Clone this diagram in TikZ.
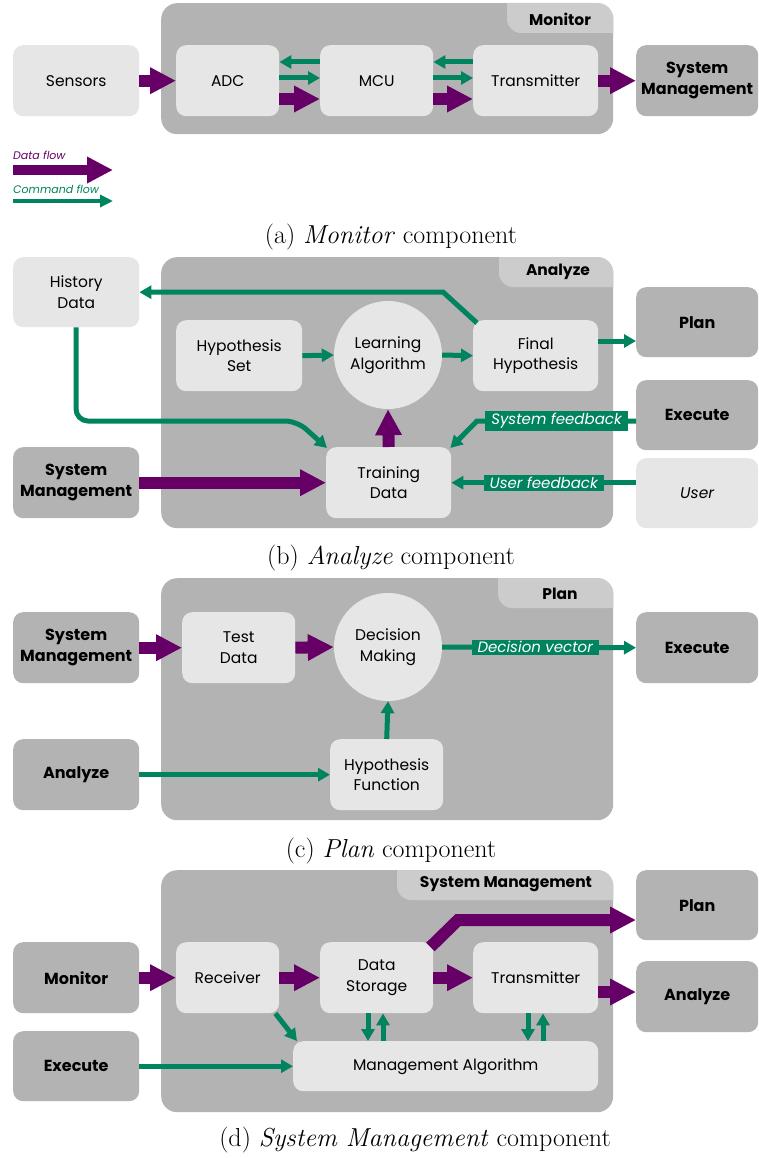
\documentclass[tikz,border=0pt]{standalone}
\usepackage{fontspec}
\newfontfamily\uifont{Poppins}
\usetikzlibrary{arrows.meta}
\definecolor{boxdark}{HTML}{B3B3B3}
\definecolor{boxlight}{HTML}{E6E6E6}
\definecolor{tabgray}{HTML}{CCCCCC}
\definecolor{dataflow}{HTML}{660066}
\definecolor{cmdflow}{HTML}{00835F}
\tikzset{
  sz/.style 2 args={minimum width=#1pt, minimum height=#2pt},
  box/.style={rounded corners=10pt, inner sep=0pt, align=center, anchor=north west,
    font=\uifont\fontsize{15.5}{20.5}\selectfont, text=black},
  light/.style={box, fill=boxlight},
  dark/.style={box, fill=boxdark, font=\uifont\bfseries\fontsize{16}{20.5}\selectfont},
  circ/.style={circle, fill=boxlight, minimum size=108pt, inner sep=0pt, align=center,
    font=\uifont\fontsize{15.5}{20.5}\selectfont},
  container/.style={fill=boxdark, rounded corners=16pt, anchor=north west, inner sep=0pt},
  tabtext/.style={font=\uifont\bfseries\fontsize{15.5}{18}\selectfont},
  dataarrow/.style={draw=dataflow, line width=12pt, -{Triangle[width=25pt,length=26pt]}},
  cmdarrow/.style={draw=cmdflow, line width=5pt, -{Triangle[width=13pt,length=12pt]}},
  flowlabel/.style={fill=cmdflow, text=white, inner xsep=6pt, inner ysep=2pt,
    font=\uifont\itshape\fontsize{15}{16}\selectfont},
  legendtext/.style={anchor=base west, inner sep=0pt, font=\uifont\itshape\fontsize{11}{13}\selectfont},
  caption/.style={font=\fontsize{26}{30}\selectfont}
}
\begin{document}
\begin{tikzpicture}[x=1pt,y=-1pt]
\useasboundingbox (0,0) rectangle (758,1158);
\fill[white] (0,0) rectangle (758,1158);

% ---------------- (a) Monitor ----------------
\node[container, sz={452}{131}] (monbox) at (161,3) {};
\begin{scope}
  \clip[rounded corners=16pt] (monbox.north west) rectangle (monbox.south east);
  \fill[tabgray, rounded corners=14pt] (507,-20) rectangle (640,33);
\end{scope}
\node[tabtext] (montab) at (560,19) {Monitor};

\node[light, sz={126}{71}] (sensors) at (13,45) {Sensors};
\node[light, sz={103}{71}] (adc) at (176,45) {ADC};
\node[light, sz={113}{71}] (mcu) at (320,45) {MCU};
\node[light, sz={125}{71}] (trans) at (473,45) {Transmitter};
\node[dark, sz={122}{71}] (sysa) at (636,45) {System\\Management};

\draw[dataarrow] (sensors.east) -- (adc.west);
\draw[cmdarrow] (mcu.west |- 0,62) -- (adc.east |- 0,62);
\draw[cmdarrow] (adc.east |- 0,78) -- (mcu.west |- 0,78);
\draw[dataarrow] (adc.east |- 0,99) -- (mcu.west |- 0,99);
\draw[cmdarrow] (trans.west |- 0,62) -- (mcu.east |- 0,62);
\draw[cmdarrow] (mcu.east |- 0,78) -- (trans.west |- 0,78);
\draw[dataarrow] (mcu.east |- 0,99) -- (trans.west |- 0,99);
\draw[dataarrow] (trans.east) -- (sysa.west);

% legend
\node[legendtext, text=dataflow] (ldata) at (13,160) {Data flow};
\coordinate (ld1) at (13,170);
\coordinate (ld2) at (113,170);
\draw[dataarrow, line width=10pt] (ld1) -- (ld2);
\node[legendtext, text=cmdflow] (lcmd) at (13,194) {Command flow};
\coordinate (lc1) at (13,201);
\coordinate (lc2) at (113,201);
\draw[cmdarrow, line width=4pt, -{Triangle[width=12pt,length=13pt]}] (lc1) -- (lc2);

\node[caption] (capa) at (391,237) {(a) \textit{Monitor} component};

% ---------------- (b) Analyze ----------------
\node[container, sz={452}{271}] (anbox) at (161,257) {};
\begin{scope}
  \clip[rounded corners=16pt] (anbox.north west) rectangle (anbox.south east);
  \fill[tabgray, rounded corners=14pt] (499,237) rectangle (640,287);
\end{scope}
\node[tabtext] (antab) at (558,272) {Analyze};

\node[light, sz={126}{70}] (hist) at (13,257) {History\\Data};
\node[light, sz={126}{71}] (hypset) at (176,320) {Hypothesis\\Set};
\node[circ] (learn) at (388,355) {Learning\\Algorithm};
\node[light, sz={125}{71}] (final) at (473,320) {Final\\Hypothesis};
\node[dark, sz={122}{70}] (planb) at (636,287) {Plan};
\node[dark, sz={122}{70}] (execb) at (636,380) {Execute};
\node[light, sz={122}{70}, font=\uifont\itshape\fontsize{15.5}{20.5}\selectfont] (user) at (636,458) {User};
\node[dark, sz={126}{71}] (sysb) at (13,447) {System\\Management};
\node[light, sz={125}{71}] (train) at (326,447) {Training\\Data};

\draw[cmdarrow] (hypset.east) -- (learn.west);
\draw[cmdarrow] (learn.east) -- (final.west);
\draw[cmdarrow] (final.east |- 0,341) -- (planb.west |- 0,341);
\coordinate (fb) at (443,292);
\draw[cmdarrow] ([shift={(4pt,-3pt)}]final.north west) -- (fb) -- (hist.east);
\coordinate (hb1) at (76,421);
\coordinate (hb2) at (297,421);
\draw[cmdarrow, rounded corners=12pt] (hist.south) -- (hb1) -- (hb2) -- ([shift={(1pt,-1pt)}]train.north west);
\draw[dataarrow] (train.north) -- (learn.south);
\draw[dataarrow] (sysb.east) -- (train.west);
\coordinate (eb) at (477,421);
\draw[cmdarrow] (execb.west |- 0,421) -- node[flowlabel, pos=0.5] (sfb) {System feedback} (eb) -- ([shift={(-1pt,-1pt)}]train.north east);
\draw[cmdarrow] (user.west |- train.east) -- node[flowlabel, pos=0.5] (ufb) {User feedback} (train.east);

\node[caption] (capb) at (391,558) {(b) \textit{Analyze} component};

% ---------------- (c) Plan ----------------
\node[container, sz={452}{242}] (plbox) at (161,578) {};
\begin{scope}
  \clip[rounded corners=16pt] (plbox.north west) rectangle (plbox.south east);
  \fill[tabgray, rounded corners=14pt] (498,558) rectangle (640,608);
\end{scope}
\node[tabtext] (pltab) at (560,594) {Plan};

\node[dark, sz={126}{71}] (sysc) at (13,612) {System\\Management};
\node[light, sz={113}{71}] (test) at (182,612) {Test\\Data};
\node[circ] (decide) at (388,647) {Decision\\Making};
\node[dark, sz={122}{71}] (execc) at (636,612) {Execute};
\node[dark, sz={126}{71}] (anc) at (13,739) {Analyze};
\node[light, sz={113}{71}] (hypfun) at (330,739) {Hypothesis\\Function};

\draw[dataarrow] (sysc.east) -- (test.west);
\draw[dataarrow] (test.east) -- (decide.west);
\draw[cmdarrow] (decide.east) -- node[flowlabel, pos=0.48] (dvec) {Decision vector} (execc.west);
\draw[cmdarrow] (anc.east) -- (hypfun.west);
\draw[cmdarrow] (hypfun.north) -- (decide.south);

\node[caption] (capc) at (391,851) {(c) \textit{Plan} component};

% ---------------- (d) System Management ----------------
\node[container, sz={452}{242}] (smbox) at (161,870) {};
\begin{scope}
  \clip[rounded corners=16pt] (smbox.north west) rectangle (smbox.south east);
  \fill[tabgray, rounded corners=14pt] (397,850) rectangle (640,900);
\end{scope}
\node[tabtext] (smtab) at (506,884) {System Management};

\node[dark, sz={126}{71}] (mond) at (13,942) {Monitor};
\node[dark, sz={126}{70}] (execd) at (13,1031) {Execute};
\node[light, sz={103}{71}] (recv) at (176,942) {Receiver};
\node[light, sz={113}{71}] (store) at (320,942) {Data\\Storage};
\node[light, sz={125}{71}] (transd) at (473,942) {Transmitter};
\node[light, sz={305}{50}] (mgmt) at (293,1041) {Management Algorithm};
\node[dark, sz={122}{70}] (pland) at (636,870) {Plan};
\node[dark, sz={122}{71}] (and) at (636,961) {Analyze};

\draw[dataarrow] (mond.east) -- (recv.west);
\draw[dataarrow] (recv.east) -- (store.west);
\draw[dataarrow] (store.east) -- (transd.west);
\draw[dataarrow] (transd.east |- 0,992) -- (and.west |- 0,992);
\coordinate (sp) at (458,920);
\draw[dataarrow] ([shift={(-3pt,-5pt)}]store.north east) -- (sp) -- (pland.west |- sp);
\draw[cmdarrow] ([xshift=-4pt]recv.south east) -- ([xshift=4pt]mgmt.north west);
\draw[cmdarrow] (execd.east) -- (mgmt.west |- execd.east);
\draw[cmdarrow] (store.south -| 368,0) -- (mgmt.north -| 368,0);
\draw[cmdarrow] (mgmt.north -| 383,0) -- (store.south -| 383,0);
\draw[cmdarrow] (transd.south -| 528,0) -- (mgmt.north -| 528,0);
\draw[cmdarrow] (mgmt.north -| 543,0) -- (transd.south -| 543,0);

\node[caption] (capd) at (415,1140) {(d) \textit{System Management} component};
\end{tikzpicture}
\end{document}
